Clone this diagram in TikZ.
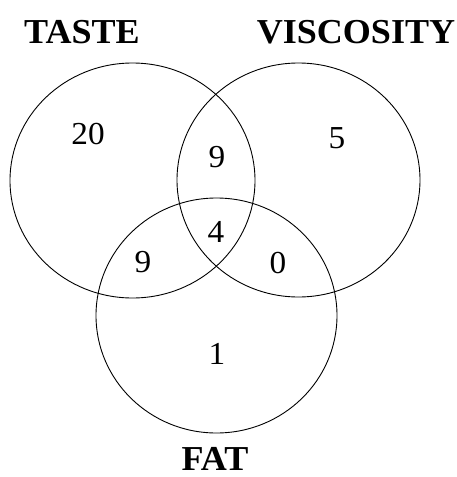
\documentclass[tikz,border=0pt]{standalone}
\usepackage{fontspec}
\setmainfont{Liberation Serif}
\begin{document}
\begin{tikzpicture}[x=1pt,y=-1pt,
  ring/.style={draw=black,line width=0.9pt},
  setname/.style={font=\fontsize{35}{38}\selectfont\bfseries,inner sep=0pt,xscale=1.03},
  count/.style={font=\fontsize{32}{34}\selectfont,inner sep=0pt,xscale=1.04}]
\useasboundingbox (0,0) rectangle (456,477);
\draw[ring] (132.5,180.5) ellipse [x radius=122.5pt, y radius=117.5pt]; % taste
\draw[ring] (298.5,180) ellipse [x radius=121.5pt, y radius=117pt];     % viscosity
\draw[ring] (216.5,315.5) ellipse [x radius=120.5pt, y radius=117.5pt]; % fat
\node[setname] (taste) at (82,32) {TASTE};
\node[setname] (viscosity) at (356,32) {VISCOSITY};
\node[setname] (fat) at (215,459) {FAT};
\node[count] (onlytaste) at (88,134) {20};
\node[count] (tastevisc) at (217,157) {9};
\node[count] (onlyvisc) at (337,138) {5};
\node[count] (allthree) at (216,232) {4};
\node[count] (tastefat) at (143,262) {9};
\node[count] (viscfat) at (278,263) {0};
\node[count] (onlyfat) at (217,354) {1};
\end{tikzpicture}
\end{document}
